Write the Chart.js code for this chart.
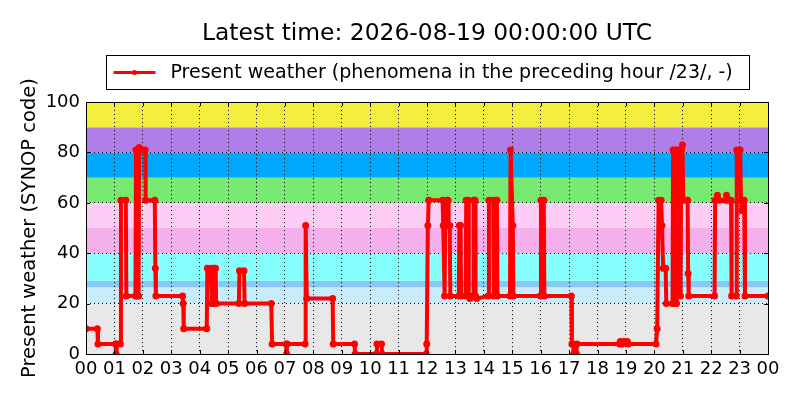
<!DOCTYPE html>
<html>
<head>
<meta charset="utf-8">
<script src="https://cdn.jsdelivr.net/npm/chart.js@4.4.1/dist/chart.umd.min.js"></script>
<style>
  html, body { margin: 0; padding: 0; background: #fff; }
</style>
</head>
<body>
<canvas id="chart" width="800" height="400"></canvas>
<script>
// x tick labels, one per hour
const hourLabels = ['00','01','02','03','04','05','06','07','08','09','10','11',
  '12','13','14','15','16','17','18','19','20','21','22','23','00'];

// observation time (hours since 00 UTC) and present weather code
const times = [
  0.00, 0.40, 0.42, 1.04, 1.06, 1.08, 1.21, 1.23, 1.40, 1.42,
  1.74, 1.76, 1.79, 1.82, 1.85, 1.87, 1.95, 2.08, 2.10, 2.42,
  2.44, 2.46, 3.40, 3.42, 3.44, 4.25, 4.27, 4.40, 4.42, 4.50,
  4.52, 4.56, 4.58, 5.38, 5.40, 5.56, 5.58, 6.52, 6.55, 7.04,
  7.06, 7.08, 7.71, 7.73, 7.77, 8.68, 8.70, 9.45, 9.47, 10.22,
  10.24, 10.40, 10.42, 11.97, 11.99, 12.03, 12.06, 12.55, 12.57, 12.62,
  12.64, 12.70, 12.74, 12.76, 12.80, 12.82, 13.12, 13.14, 13.18, 13.20,
  13.36, 13.38, 13.45, 13.47, 13.51, 13.62, 13.64, 13.69, 13.71, 13.75,
  14.15, 14.18, 14.33, 14.35, 14.40, 14.46, 14.48, 14.92, 14.94, 15.02,
  15.04, 15.99, 16.01, 16.11, 16.13, 17.08, 17.10, 17.14, 17.16, 17.26,
  17.28, 18.78, 18.80, 18.86, 18.93, 19.05, 19.08, 20.06, 20.10, 20.15,
  20.24, 20.27, 20.31, 20.40, 20.42, 20.64, 20.66, 20.69, 20.71, 20.75,
  20.78, 20.80, 20.90, 20.92, 20.95, 20.99, 21.02, 21.17, 21.19, 21.21,
  22.12, 22.14, 22.22, 22.28, 22.50, 22.54, 22.58, 22.70, 22.72, 22.88,
  22.90, 23.02, 23.05, 23.08, 23.10, 23.16, 23.19, 24.00
];
const weather = [
  10, 10, 4, 4, 0, 4, 4, 61, 61, 23,
  23, 81, 23, 81, 23, 82, 81, 81, 61, 61,
  34, 23, 23, 20, 10, 10, 34, 34, 20, 20,
  34, 34, 20, 20, 33, 33, 20, 20, 4, 4,
  0, 4, 4, 51, 22, 22, 4, 4, 0, 0,
  4, 4, 0, 0, 4, 51, 61, 61, 51, 23,
  51, 61, 61, 51, 51, 23, 23, 51, 51, 23,
  23, 61, 61, 23, 22, 23, 61, 61, 23, 22,
  23, 61, 61, 23, 61, 61, 23, 23, 81, 51,
  23, 23, 61, 61, 23, 23, 4, 4, 0, 0,
  4, 4, 5, 4, 5, 5, 4, 4, 10, 61,
  61, 51, 34, 34, 20, 20, 81, 20, 81, 20,
  20, 81, 81, 23, 81, 83, 61, 61, 32, 23,
  23, 61, 63, 61, 61, 63, 61, 61, 23, 23,
  81, 81, 61, 57, 61, 61, 23, 23
];

// background bands of weather code groups: [from, to, colour]
const bands = [
  [0, 20, '#e8e8e8'],
  [20, 26.5, '#c8ecfc'],
  [26.5, 29, '#88c8f2'],
  [29, 40, '#88ffff'],
  [40, 50, '#f5b0ec'],
  [50, 60, '#fdcdf6'],
  [60, 70, '#77e870'],
  [70, 80, '#00a8ff'],
  [80, 90, '#b07ee8'],
  [90, 100, '#f5ee3c']
];

Chart.defaults.font.family = '"DejaVu Sans", sans-serif';
Chart.defaults.color = '#000';

const bandPlugin = {
  id: 'bands',
  beforeDraw(chart) {
    const {ctx, chartArea: a, scales: {y}} = chart;
    ctx.save();
    bands.forEach(([lo, hi, color]) => {
      const top = y.getPixelForValue(hi);
      const bot = y.getPixelForValue(lo);
      ctx.fillStyle = color;
      ctx.fillRect(a.left, top, a.right - a.left, bot - top);
    });
    ctx.restore();
  }
};

// axes frame with little inward ticks, like the original
const framePlugin = {
  id: 'frame',
  afterDatasetsDraw(chart) {
    const {ctx, chartArea: a, scales: {x, y}} = chart;
    ctx.save();
    ctx.strokeStyle = '#000';
    ctx.lineWidth = 1;
    ctx.beginPath();
    x.ticks.forEach(t => {
      const px = Math.round(x.getPixelForValue(t.value)) + 0.5;
      ctx.moveTo(px, a.bottom); ctx.lineTo(px, a.bottom - 4);
      ctx.moveTo(px, a.top); ctx.lineTo(px, a.top + 4);
    });
    y.ticks.forEach(t => {
      const py = Math.round(y.getPixelForValue(t.value)) + 0.5;
      ctx.moveTo(a.left, py); ctx.lineTo(a.left + 4, py);
      ctx.moveTo(a.right, py); ctx.lineTo(a.right - 4, py);
    });
    ctx.stroke();
    ctx.strokeRect(Math.round(a.left) + 0.5, Math.round(a.top) + 0.5,
      Math.round(a.right - a.left), Math.round(a.bottom - a.top));
    ctx.restore();
  }
};

// framed legend box centred over the plot
const legendPlugin = {
  id: 'boxLegend',
  afterDraw(chart) {
    const {ctx, chartArea: a} = chart;
    const ds = chart.data.datasets[0];
    ctx.save();
    ctx.font = '19px "DejaVu Sans"';
    const tw = ctx.measureText(ds.label).width;
    const w = Math.round(tw + 81);
    const h = 34;
    const x0 = Math.round((a.left + a.right) / 2 - w / 2) + 0.5;
    const y0 = Math.round(a.top - 47) + 0.5;
    ctx.fillStyle = '#fff';
    ctx.fillRect(x0, y0, w, h);
    ctx.strokeStyle = '#000';
    ctx.lineWidth = 1;
    ctx.strokeRect(x0, y0, w, h);
    const cy = y0 + h / 2;
    ctx.strokeStyle = ds.borderColor;
    ctx.lineWidth = 3;
    ctx.beginPath();
    ctx.moveTo(x0 + 7, cy); ctx.lineTo(x0 + 49, cy);
    ctx.stroke();
    ctx.fillStyle = ds.borderColor;
    ctx.beginPath();
    ctx.arc(x0 + 28, cy, 2.5, 0, Math.PI * 2);
    ctx.fill();
    ctx.fillStyle = '#000';
    ctx.textBaseline = 'middle';
    ctx.fillText(ds.label, x0 + 64, cy + 1);
    ctx.restore();
  }
};

const chart = document.querySelector('#chart').getContext('2d');

new Chart(chart, {
  type: 'line',
  data: {
    datasets: [{
      label: 'Present weather (phenomena in the preceding hour /23/, -)',
      data: times.map((t, i) => ({x: t, y: weather[i]})),
      borderColor: '#ff0000',
      backgroundColor: '#ff0000',
      borderWidth: 4,
      borderJoinStyle: 'round',
      borderCapStyle: 'round',
      pointRadius: 3.5,
      pointHoverRadius: 3.5,
      pointBorderWidth: 0,
      tension: 0
    }]
  },
  options: {
    responsive: false,
    animation: false,
    events: [],
    layout: { padding: { left: 0, right: 32, top: 0, bottom: 0 } },
    plugins: {
      legend: { display: false },
      tooltip: { enabled: false },
      title: {
        display: true,
        fullSize: false,
        text: 'Latest time: 2026-08-19 00:00:00 UTC',
        font: { size: 23.4, weight: 'normal' },
        color: '#000',
        padding: { top: 20, bottom: 54 }
      }
    },
    scales: {
      x: {
        type: 'linear',
        min: 0,
        max: 24,
        ticks: {
          stepSize: 1,
          autoSkip: false,
          maxRotation: 0,
          padding: 5,
          font: { size: 18 },
          callback: v => hourLabels[v]
        },
        grid: { color: '#000', lineWidth: 1, drawTicks: false },
        border: { display: false, dash: [1, 3] },
        afterFit: s => { s.height = 46; }
      },
      y: {
        min: 0,
        max: 100,
        ticks: { stepSize: 20, padding: 6, font: { size: 18 } },
        grid: { color: '#000', lineWidth: 1, drawTicks: false },
        border: { display: false, dash: [1, 3] },
        title: {
          display: true,
          text: 'Present weather (SYNOP code)',
          font: { size: 19.5 },
          color: '#000',
          padding: { top: 18, bottom: 0 }
        },
        afterFit: s => { s.width = 86; }
      }
    }
  },
  plugins: [bandPlugin, framePlugin, legendPlugin]
});
</script>
</body>
</html>
